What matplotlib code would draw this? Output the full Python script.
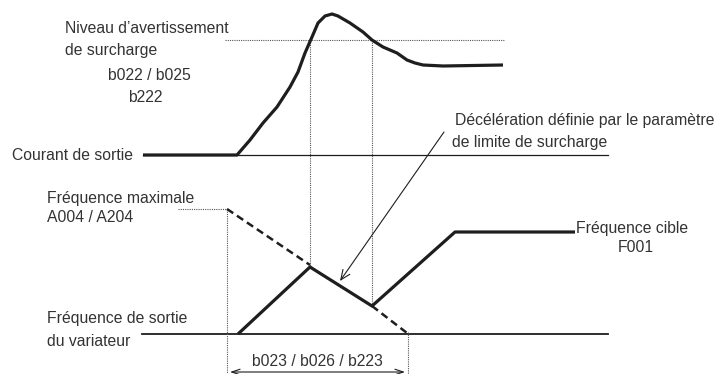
import matplotlib.pyplot as plt

plt.rcParams['font.family'] = ['Liberation Sans', 'DejaVu Sans']

# diagram coordinates (pixel-like units, y grows downward)
cur_base_y = 155
freq_base_y = 334
warn_level_y = 40

# output current curve
cur_x = [143, 237, 250, 263, 277, 290, 298, 305, 312, 318, 325, 332, 338, 350, 363,
         372, 383, 397, 407, 415, 423, 443, 503]
cur_y = [155, 155, 140, 123, 107, 87, 72, 53, 37, 23, 16, 14, 16, 23, 32,
         40, 47, 53, 60, 63, 65, 66, 65]

# output frequency (solid) and planned ramps (dashed)
freq_x = [238, 310, 372, 455, 575]
freq_y = [334, 267, 306, 232, 232]
dash1_x, dash1_y = [227, 310], [209, 265]
dash2_x, dash2_y = [372, 407], [306, 333]

# dotted guides
vguides = [(310, 40, 266), (372, 40, 306), (227, 209, 374), (408, 332, 374)]
hguides = [(225, 504, warn_level_y), (178, 227, 209)]

ink = '#1e1e1e'
txt = '#333333'

fig = plt.figure(figsize=(7.14, 3.74), dpi=100)
ax = fig.add_axes([0, 0, 1, 1])
ax.set_xlim(0, 714)
ax.set_ylim(374, 0)
ax.axis('off')

# baselines
ax.plot([143, 608], [cur_base_y, cur_base_y], color=ink, lw=0.9)
ax.plot([142, 608], [freq_base_y, freq_base_y], color=ink, lw=1.3)

for x, y0, y1 in vguides:
    ax.plot([x, x], [y0, y1], color='#555555', lw=0.8, linestyle=(0, (1, 1)))
for x0, x1, y in hguides:
    ax.plot([x0, x1], [y, y], color='#555555', lw=0.8, linestyle=(0, (1, 1)))

ax.plot(cur_x, cur_y, color=ink, lw=2.3, solid_capstyle='butt', solid_joinstyle='round')
ax.plot(freq_x, freq_y, color=ink, lw=2.3, solid_capstyle='butt')
ax.plot(dash1_x, dash1_y, color=ink, lw=1.8, linestyle=(0, (3, 1.8)))
ax.plot(dash2_x, dash2_y, color=ink, lw=1.8, linestyle=(0, (3, 1.8)))

# annotation arrow
ax.annotate('', xy=(340, 281), xytext=(444, 132),
            arrowprops=dict(arrowstyle='->,head_length=0.7,head_width=0.3',
                            color=ink, lw=0.8, shrinkA=0, shrinkB=0))
# dimension arrow
ax.annotate('', xy=(230, 372), xytext=(405, 372),
            arrowprops=dict(arrowstyle='<->,head_length=0.6,head_width=0.2',
                            color=ink, lw=0.8, shrinkA=0, shrinkB=0))

fs = 11.3
labels = [
    (65, 28, 'Niveau d\u2019avertissement'),
    (65, 50, 'de surcharge'),
    (108, 75, 'b022 / b025'),
    (128, 97, 'b222'),
    (12, 155, 'Courant de sortie'),
    (47, 198, 'Fréquence maximale'),
    (47, 217, 'A004 / A204'),
    (47, 319, 'Fréquence de sortie'),
    (47, 341, 'du variateur'),
    (455, 120, 'Décélération définie par le paramètre'),
    (452, 142, 'de limite de surcharge'),
    (576, 228, 'Fréquence cible'),
    (618, 247, 'F001'),
    (252, 362, 'b023 / b026 / b223'),
]
for x, y, s in labels:
    ax.text(x, y, s, fontsize=fs, color=txt, ha='left', va='center')

fig.savefig('out.png', dpi=100)
